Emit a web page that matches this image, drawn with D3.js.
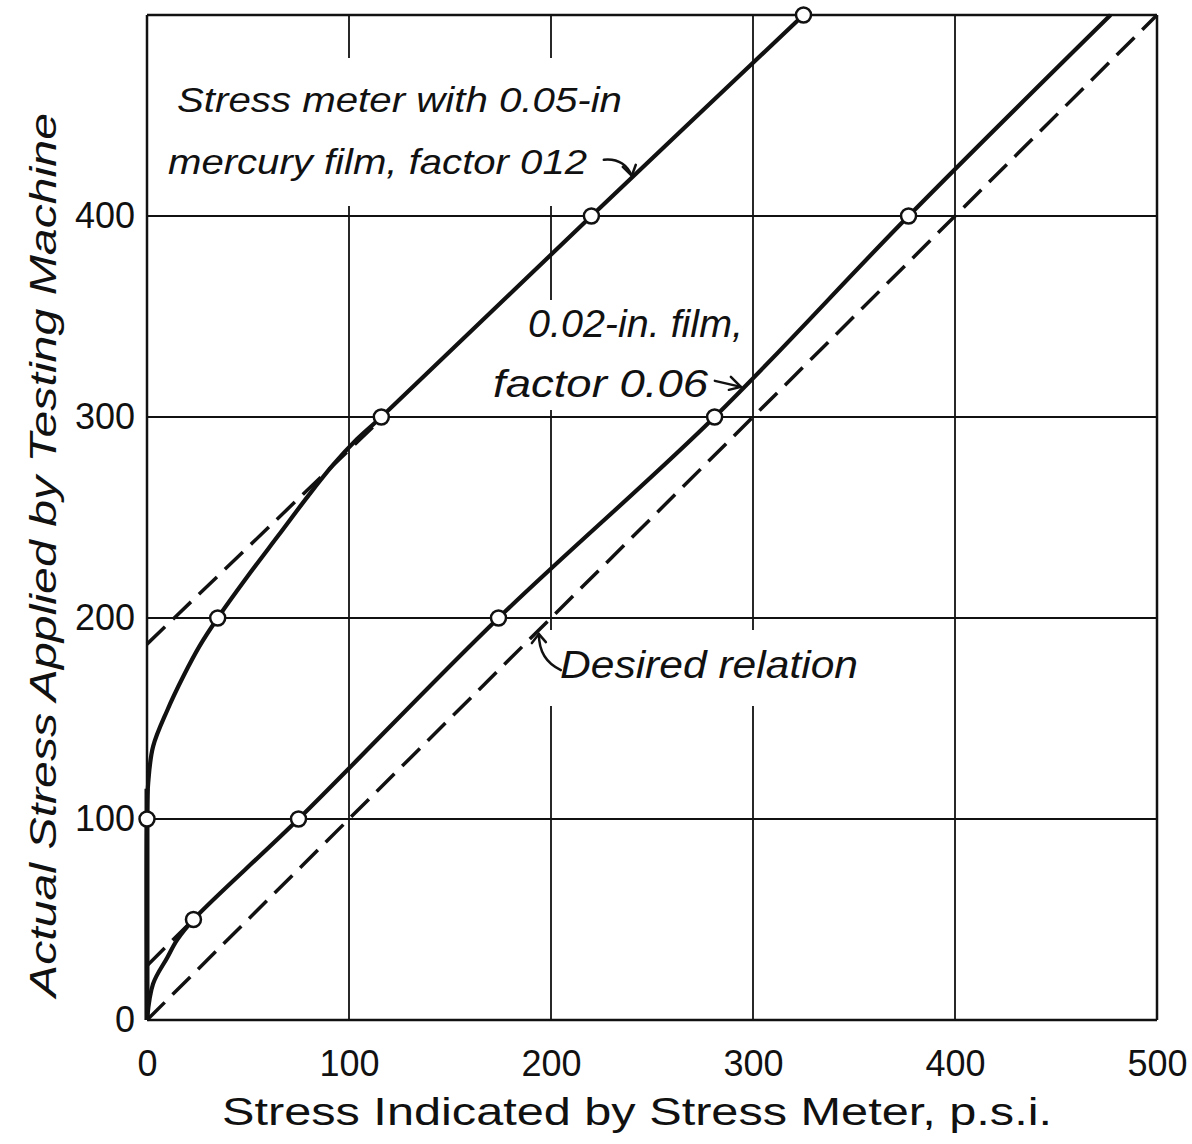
<!DOCTYPE html>
<html>
<head>
<meta charset="utf-8">
<script src="https://cdn.jsdelivr.net/npm/d3@7"></script>
<style>
  body { margin: 0; background: #fff; }
  svg { display: block; }
  text { font-family: "Liberation Sans", Arial, sans-serif; fill: #111; }
</style>
</head>
<body>
<div id="chart"></div>
<script>
// axis ticks
const xTicks = [0, 100, 200, 300, 400, 500];
const yTicks = [0, 100, 200, 300, 400];

// desired relation (dashed 45deg line)
const desiredRelation = [[0, 0], [500, 500]];

// 0.05-in mercury film, factor 0.12
const film05Curve = [[0, 0], [0, 100], [0.6, 118], [3, 136], [10, 154], [18, 171], [26, 186],
  [35, 200], [50, 221], [65, 241], [80, 261], [92, 276], [104, 289], [116, 300], [220, 400], [325, 500]];
const film05Points = [[0, 100], [35, 200], [116, 300], [220, 400], [325, 500]];
const film05Extension = [[0, 187], [116, 299]];

// 0.02-in film, factor 0.06
const film02Curve = [[0, 0], [3, 18], [10, 31], [15, 40], [23, 50], [75, 100], [174, 200],
  [281, 300], [377, 400], [477, 500]];
const film02Points = [[23, 50], [75, 100], [174, 200], [281, 300], [377, 400]];
const film02Extension = [[0, 27], [23, 50]];

const width = 1192;
const height = 1144;
const margin = { top: 15, right: 35, bottom: 124, left: 147 };

const svg = d3.select('#chart')
  .append('svg')
  .attr('width', width)
  .attr('height', height);

svg.append('rect').attr('width', width).attr('height', height).attr('fill', '#fff');

const x = d3.scaleLinear().domain([0, 500]).range([margin.left, width - margin.right]);
const y = d3.scaleLinear().domain([0, 500]).range([height - margin.bottom, margin.top]);

// grid
const grid = svg.append('g').attr('stroke', '#111');
grid.selectAll('.vgrid')
  .data(xTicks)
  .enter().append('line')
  .attr('x1', d => x(d)).attr('x2', d => x(d))
  .attr('y1', y(0)).attr('y2', y(500))
  .attr('stroke-width', d => (d === 0 || d === 500) ? 2.5 : 1.8);
grid.selectAll('.hgrid')
  .data(yTicks.concat([500]))
  .enter().append('line')
  .attr('x1', x(0)).attr('x2', x(500))
  .attr('y1', d => y(d)).attr('y2', d => y(d))
  .attr('stroke-width', d => (d === 0 || d === 500) ? 2.5 : 1.8);

// gridlines are broken behind the lettering
const masks = [
  [165, 58, 462, 148],
  [485, 300, 262, 110],
  [545, 630, 325, 76]
];
svg.selectAll('.mask')
  .data(masks)
  .enter().append('rect')
  .attr('x', d => d[0]).attr('y', d => d[1])
  .attr('width', d => d[2]).attr('height', d => d[3])
  .attr('fill', '#fff');

// axes
const xAxis = svg.append('g')
  .attr('transform', `translate(0,${y(0)})`)
  .call(d3.axisBottom(x).tickValues(xTicks).tickSize(0).tickPadding(30).tickFormat(d3.format('d')));
const yAxis = svg.append('g')
  .attr('transform', `translate(${x(0)},0)`)
  .call(d3.axisLeft(y).tickValues(yTicks).tickSize(0).tickPadding(12).tickFormat(d3.format('d')));
[xAxis, yAxis].forEach(a => {
  a.select('.domain').remove();
  a.selectAll('text')
    .attr('font-family', '"Liberation Sans", Arial, sans-serif')
    .attr('font-size', 36)
    .attr('fill', '#111');
});

// data lines
const line = d3.line().x(d => x(d[0])).y(d => y(d[1]));
const smooth = d3.line().x(d => x(d[0])).y(d => y(d[1])).curve(d3.curveCatmullRom.alpha(0.5));

const dashed = [desiredRelation, film05Extension, film02Extension];
svg.selectAll('.dashed')
  .data(dashed)
  .enter().append('path')
  .attr('d', line)
  .attr('fill', 'none')
  .attr('stroke', '#111')
  .attr('stroke-width', 3.5)
  .attr('stroke-dasharray', '25,11');

svg.selectAll('.solid')
  .data([film05Curve, film02Curve])
  .enter().append('path')
  .attr('d', smooth)
  .attr('fill', 'none')
  .attr('stroke', '#111')
  .attr('stroke-width', 4.2)
  .attr('stroke-linejoin', 'round');

// heavier start of the 0.05-in curve along the axis
svg.append('path')
  .attr('d', line([[0, 0], [0, 115]]))
  .attr('stroke', '#111')
  .attr('stroke-width', 5);

svg.selectAll('.pt')
  .data(film05Points.concat(film02Points))
  .enter().append('circle')
  .attr('cx', d => x(d[0]))
  .attr('cy', d => y(d[1]))
  .attr('r', 7.5)
  .attr('fill', '#fff')
  .attr('stroke', '#111')
  .attr('stroke-width', 2.5);

// labels
const labels = [
  { text: 'Stress meter with 0.05-in', x: 177, y: 112, len: 445, size: 35 },
  { text: 'mercury film, factor 012', x: 168, y: 174, len: 419, size: 35 },
  { text: '0.02-in. film,', x: 528, y: 337, len: 215, size: 38 },
  { text: 'factor 0.06', x: 493, y: 397, len: 215, size: 38 },
  { text: 'Desired relation', x: 560, y: 678, len: 298, size: 38 }
];
svg.selectAll('.label')
  .data(labels)
  .enter().append('text')
  .attr('x', d => d.x)
  .attr('y', d => d.y)
  .attr('font-size', d => d.size)
  .attr('font-style', 'italic')
  .attr('textLength', d => d.len)
  .attr('lengthAdjust', 'spacingAndGlyphs')
  .text(d => d.text);

// arrows
const arrowTips = [[240, 420], [294, 315], [194, 192]];
const t = arrowTips.map(d => [x(d[0]), y(d[1])]);
const arrowPaths = [
  `M${t[0][0] - 28},${t[0][1] - 16} Q${t[0][0] - 8},${t[0][1] - 18} ${t[0][0]},${t[0][1]}`,
  `M${t[1][0] - 26},${t[1][1] - 6} L${t[1][0]},${t[1][1]}`,
  `M${t[2][0] + 22},${t[2][1] + 36} Q${t[2][0]},${t[2][1] + 26} ${t[2][0]},${t[2][1]}`
];
const heads = [
  `M${t[0][0] - 9},${t[0][1] - 9} L${t[0][0]},${t[0][1]} L${t[0][0] + 4},${t[0][1] - 11}`,
  `M${t[1][0] - 10},${t[1][1] - 10} L${t[1][0]},${t[1][1]} L${t[1][0] - 12},${t[1][1] + 3}`,
  `M${t[2][0] - 7},${t[2][1] + 9} L${t[2][0]},${t[2][1]} L${t[2][0] + 7},${t[2][1] + 8}`
];
svg.selectAll('.arrow')
  .data(arrowPaths.concat(heads))
  .enter().append('path')
  .attr('d', d => d)
  .attr('fill', 'none')
  .attr('stroke', '#111')
  .attr('stroke-width', 2.5)
  .attr('stroke-linecap', 'round');

// axis titles
svg.append('text')
  .attr('x', 222)
  .attr('y', 1125)
  .attr('font-size', 38)
  .attr('textLength', 830)
  .attr('lengthAdjust', 'spacingAndGlyphs')
  .text('Stress Indicated by Stress Meter, p.s.i.');

svg.append('text')
  .attr('transform', 'translate(56,997) rotate(-90)')
  .attr('font-size', 37)
  .attr('font-style', 'italic')
  .attr('textLength', 884)
  .attr('lengthAdjust', 'spacingAndGlyphs')
  .text('Actual Stress Applied by Testing Machine');
</script>
</body>
</html>
